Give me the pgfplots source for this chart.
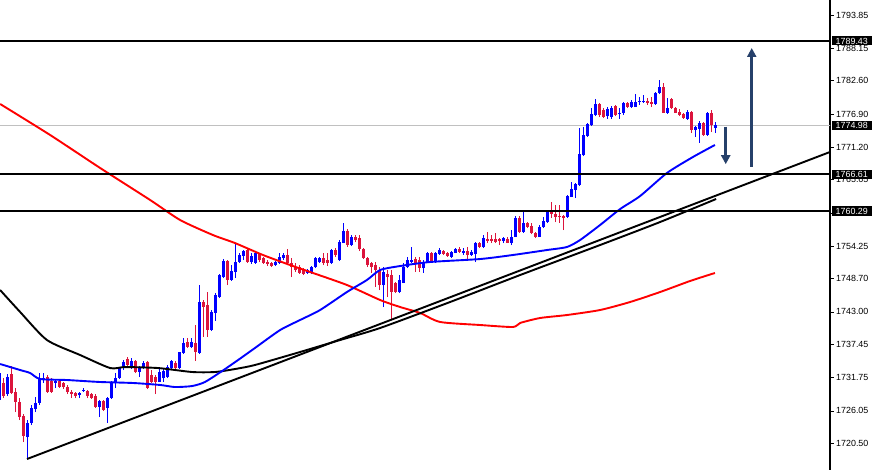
\documentclass[border=0pt]{standalone}
\usepackage{fontspec}
\setmainfont{Liberation Sans}
\usepackage{pgfplots}
\usepackage{pgfplotstable}
\pgfplotsset{compat=1.18}
\usetikzlibrary{arrows.meta}

\definecolor{candleblue}{RGB}{0,0,255}
\definecolor{candlered}{RGB}{220,20,60}
\definecolor{arrowblue}{RGB}{38,64,106}
\definecolor{pricegray}{RGB}{192,192,192}
\newcommand\tickfont{\fontsize{8.9bp}{10bp}\selectfont}

\pgfplotstableread{
k o h l c
-1 1727.92 1733.05 1727.58 1732.54
1 1728.94 1732.37 1728.60 1731.85
6 1721.58 1724.49 1717.81 1723.98
7 1723.98 1727.06 1723.63 1726.55
8 1726.37 1728.43 1725.86 1727.41
9 1727.41 1732.54 1727.06 1731.68
10 1731.34 1732.54 1730.83 1731.68
13 1730.83 1731.34 1729.97 1731.17
19 1728.77 1729.29 1728.26 1729.12
20 1729.46 1729.97 1729.29 1729.63
24 1726.72 1727.92 1725.00 1727.75
26 1726.55 1728.43 1723.98 1728.26
27 1728.26 1731.17 1728.09 1731.00
28 1731.00 1732.54 1729.97 1731.68
29 1731.68 1733.56 1731.51 1733.39
30 1733.39 1734.77 1733.05 1734.43
32 1733.56 1735.11 1733.22 1734.60
34 1732.71 1733.74 1731.85 1733.39
35 1733.39 1734.60 1733.22 1734.26
39 1731.00 1733.39 1731.00 1732.71
40 1731.68 1733.39 1731.00 1732.88
41 1731.85 1733.91 1731.68 1733.56
42 1733.39 1734.77 1733.05 1734.60
44 1733.39 1736.14 1733.22 1736.14
45 1735.97 1738.54 1735.80 1737.68
47 1736.99 1738.54 1736.82 1737.85
49 1735.97 1747.61 1735.80 1744.70
52 1739.90 1743.33 1739.73 1742.99
53 1742.82 1746.24 1741.45 1745.90
54 1745.55 1749.49 1745.38 1749.32
55 1748.98 1752.06 1748.81 1751.72
57 1748.47 1751.03 1748.30 1750.01
58 1749.84 1754.63 1748.81 1751.55
59 1751.55 1753.09 1751.38 1752.75
60 1752.58 1753.60 1751.89 1753.43
62 1751.55 1753.09 1751.21 1752.58
63 1751.38 1753.26 1751.21 1753.09
68 1751.03 1751.72 1750.86 1751.55
69 1751.38 1753.09 1751.21 1752.41
70 1752.23 1753.09 1751.89 1752.75
76 1749.67 1750.35 1749.49 1750.18
77 1749.67 1750.86 1749.49 1750.69
78 1750.69 1752.41 1750.52 1752.23
79 1751.55 1752.41 1751.38 1752.23
82 1751.38 1753.77 1751.21 1753.60
84 1751.89 1755.32 1751.72 1754.97
85 1754.80 1758.23 1754.80 1756.86
87 1754.46 1756.17 1754.29 1755.83
95 1747.61 1750.69 1743.84 1749.84
99 1746.41 1749.32 1746.24 1748.47
100 1747.95 1751.38 1747.95 1750.69
101 1750.69 1752.41 1750.52 1751.89
102 1751.55 1754.12 1751.38 1751.89
105 1750.52 1751.89 1749.67 1751.55
106 1751.55 1753.26 1751.38 1753.09
108 1751.55 1753.26 1751.38 1753.09
109 1752.92 1753.94 1752.75 1753.60
112 1752.41 1753.43 1752.23 1753.26
113 1753.09 1753.94 1753.09 1753.77
115 1753.09 1753.94 1752.75 1753.43
117 1752.75 1753.60 1752.58 1753.26
118 1752.92 1754.97 1751.55 1754.80
120 1754.12 1756.17 1753.94 1755.66
125 1755.15 1755.83 1754.80 1755.66
127 1754.80 1757.03 1754.46 1755.83
128 1755.83 1759.43 1755.83 1759.09
130 1756.69 1760.45 1756.52 1758.23
134 1755.83 1757.89 1755.83 1757.54
135 1757.54 1759.26 1757.37 1758.57
136 1758.40 1760.45 1758.23 1760.11
141 1759.26 1763.03 1759.09 1762.85
142 1762.68 1765.25 1762.68 1764.05
143 1763.88 1765.08 1762.51 1764.91
144 1764.74 1774.50 1764.57 1770.05
145 1769.87 1774.67 1769.70 1773.30
146 1773.13 1775.35 1772.96 1775.18
147 1775.01 1777.92 1774.84 1776.90
148 1776.73 1779.46 1776.55 1778.61
151 1776.55 1778.09 1776.04 1777.75
152 1776.38 1778.27 1776.04 1777.92
154 1776.90 1777.92 1776.04 1777.07
155 1777.07 1778.95 1776.73 1778.78
157 1778.09 1779.29 1777.92 1778.95
158 1778.09 1780.32 1778.09 1778.95
159 1778.95 1779.81 1778.44 1779.12
160 1778.95 1780.15 1778.78 1779.12
163 1778.61 1780.66 1778.44 1780.49
164 1780.49 1782.72 1780.32 1781.52
166 1777.07 1779.63 1776.90 1777.92
171 1776.04 1777.58 1775.87 1777.24
173 1774.16 1774.84 1772.96 1774.67
174 1774.33 1775.70 1771.93 1775.35
176 1773.30 1777.24 1773.13 1777.07
178 1774.50 1775.52 1773.64 1774.98
}\upcandles

\pgfplotstableread{
k o h l c
0 1730.83 1731.68 1728.26 1728.60
2 1732.37 1733.74 1728.94 1729.12
3 1729.29 1729.97 1725.86 1727.58
4 1727.58 1728.26 1724.49 1725.00
5 1725.17 1725.52 1720.72 1721.75
11 1731.85 1732.20 1729.12 1729.29
12 1731.17 1731.68 1729.12 1729.29
14 1731.17 1731.34 1729.97 1730.14
15 1730.83 1731.00 1729.80 1730.14
16 1730.14 1730.49 1728.94 1729.29
17 1729.29 1729.63 1728.26 1728.94
18 1729.12 1729.29 1728.26 1728.60
21 1729.46 1729.63 1728.26 1728.60
22 1728.94 1729.12 1728.09 1728.26
23 1728.60 1728.94 1726.55 1726.72
25 1727.75 1727.92 1726.03 1726.20
31 1734.94 1735.28 1733.39 1733.91
33 1734.60 1734.77 1732.54 1732.71
36 1734.43 1734.60 1729.80 1729.97
37 1732.20 1733.05 1730.83 1731.00
38 1731.85 1732.20 1728.94 1731.00
43 1734.26 1734.60 1733.22 1733.39
46 1737.85 1738.54 1736.82 1736.99
48 1737.68 1740.76 1734.60 1736.14
50 1744.70 1745.04 1738.71 1743.84
51 1744.19 1746.41 1738.71 1739.90
56 1751.72 1751.89 1747.61 1748.47
61 1753.60 1753.94 1751.38 1751.55
64 1752.92 1753.09 1751.55 1751.89
65 1752.23 1752.41 1751.21 1751.38
66 1751.55 1751.89 1750.86 1751.21
67 1751.38 1751.55 1750.69 1750.86
71 1752.75 1753.77 1751.03 1751.38
72 1751.38 1752.23 1748.98 1750.69
73 1750.69 1751.38 1749.84 1750.18
74 1750.69 1751.03 1749.50 1749.67
75 1750.18 1750.52 1749.32 1749.49
80 1752.23 1753.09 1751.03 1751.38
81 1751.89 1753.09 1750.86 1751.38
83 1753.60 1753.94 1752.41 1752.75
86 1756.86 1757.20 1754.12 1754.46
88 1755.83 1756.17 1754.97 1755.32
89 1755.66 1756.17 1753.43 1753.77
90 1753.77 1753.94 1752.06 1752.23
91 1752.23 1752.41 1750.69 1751.03
92 1751.38 1751.55 1749.67 1750.69
93 1751.03 1751.55 1747.27 1750.18
94 1750.18 1750.69 1746.75 1747.61
96 1749.49 1750.18 1745.55 1748.98
97 1749.32 1750.18 1741.62 1746.41
98 1747.95 1748.12 1746.24 1746.41
103 1752.06 1752.41 1749.84 1751.38
104 1751.89 1752.41 1749.84 1750.52
107 1753.09 1753.26 1751.38 1751.55
110 1753.43 1753.60 1752.75 1752.92
111 1753.09 1753.26 1752.41 1752.58
114 1753.77 1754.12 1753.09 1753.26
116 1753.43 1754.12 1751.89 1752.75
119 1754.80 1754.97 1753.94 1754.12
121 1755.49 1756.69 1754.80 1755.15
122 1755.49 1756.17 1754.80 1755.15
123 1755.49 1756.52 1754.80 1754.97
124 1755.49 1755.66 1754.46 1755.15
126 1755.49 1755.83 1754.80 1754.80
129 1759.09 1759.43 1756.52 1756.69
131 1758.23 1758.40 1757.37 1757.54
132 1757.72 1758.23 1756.34 1756.52
133 1756.52 1756.69 1755.66 1755.83
137 1760.11 1761.82 1759.09 1759.77
138 1759.77 1761.31 1758.40 1759.26
139 1759.43 1761.31 1758.23 1759.26
140 1759.43 1759.60 1757.03 1759.09
149 1778.61 1778.78 1776.38 1776.73
150 1777.58 1777.92 1776.21 1776.38
153 1778.27 1778.44 1776.55 1776.73
156 1778.78 1778.95 1777.92 1778.09
161 1779.12 1779.63 1778.44 1778.78
162 1778.95 1779.81 1778.09 1778.61
165 1781.52 1782.21 1777.07 1777.07
167 1779.46 1779.63 1777.75 1777.92
168 1777.92 1778.09 1777.07 1777.07
169 1777.24 1777.75 1776.55 1776.73
170 1776.90 1777.07 1776.04 1776.21
172 1777.24 1777.41 1773.64 1774.16
175 1775.35 1775.52 1773.13 1773.30
177 1777.07 1777.58 1773.81 1774.98
}\downcandles

\pgfplotstableread{
k p
-0.8 1734.08
4.2 1733.05
6.7 1732.54
9.2 1731.51
15.9 1731.34
24.2 1731.00
32.4 1730.83
39.2 1730.49
42.9 1730.14
47.2 1730.31
50.4 1731.00
54.7 1732.88
58.7 1734.77
62.9 1736.82
69.2 1739.90
74.2 1741.62
79.2 1743.33
85.9 1746.41
90.9 1748.47
94.2 1750.18
99.2 1750.86
106.7 1751.55
119.2 1752.06
127.4 1752.75
135.9 1753.60
140.9 1754.12
144.2 1755.32
149.2 1757.89
154.2 1760.62
159.2 1762.85
165.9 1766.79
172.4 1769.53
177.9 1771.59
}\blueMA

\pgfplotstableread{
k p
-0.8 1778.61
11.7 1773.30
24.2 1767.65
36.7 1762.17
44.2 1758.74
52.4 1756.17
57.9 1754.80
64.9 1752.75
71.7 1751.03
77.4 1749.67
85.9 1747.61
94.2 1745.04
99.2 1743.84
104.2 1742.82
109.2 1741.28
119.2 1740.76
127.4 1740.42
129.2 1741.11
134.2 1741.96
140.9 1742.47
149.2 1743.33
156.7 1744.70
164.2 1746.41
171.7 1748.30
177.9 1749.67
}\redMA

\pgfplotstableread{
k p
-0.8 1746.75
4.2 1742.99
10.9 1738.19
19.2 1735.62
26.7 1733.39
30.4 1733.56
38.7 1733.39
47.2 1732.71
52.9 1732.71
57.9 1733.22
62.9 1733.91
74.2 1736.14
84.2 1738.19
94.2 1740.25
111.7 1744.70
129.2 1749.32
149.2 1754.46
164.2 1758.40
178.2 1762.34
}\blackMA

\begin{document}
\begin{tikzpicture}
\begin{axis}[
  scale only axis, width=830bp, height=470bp,
  xmin=-0.8325, xmax=206.6675, ymin=1715.93, ymax=1796.42,
  axis x line=none, axis y line*=right,
  axis line style={-, line width=1.2bp, black},
  xtick=\empty,
  ytick={1720.50,1726.05,1731.75,1737.45,1743.00,1748.70,1754.25,1759.95,1765.65,1771.20,1776.90,1782.60,1788.15,1793.85},
  yticklabels={1720.50,1726.05,1731.75,1737.45,1743.00,1748.70,1754.25,{},1765.65,1771.20,1776.90,1782.60,1788.15,1793.85},
  tick align=outside, major tick length=3.5bp,
  ytick style={line width=0.8bp, black},
  yticklabel style={font=\tickfont, inner sep=1bp, xshift=1.5bp},
  clip=true,
]
\coordinate (ll) at (rel axis cs:0,0);
\coordinate (b1) at (axis cs:206.6675,1789.43);
\coordinate (b2) at (axis cs:206.6675,1774.98);
\coordinate (b3) at (axis cs:206.6675,1766.61);
\coordinate (b4) at (axis cs:206.6675,1760.29);

% last price line
\addplot[pricegray, line width=0.9bp] coordinates {(-1,1774.98) (208,1774.98)};

% candles: wicks and bodies
\addplot[candleblue, line width=0.9bp, quiver={u=0, v=\thisrow{h}-\thisrow{l}}] table[x=k, y=l] {\upcandles};
\addplot[candleblue, line width=2.9bp, quiver={u=0, v=\thisrow{c}-\thisrow{o}}] table[x=k, y=o] {\upcandles};
\addplot[candlered, line width=0.9bp, quiver={u=0, v=\thisrow{h}-\thisrow{l}}] table[x=k, y=l] {\downcandles};
\addplot[candlered, line width=2.9bp, quiver={u=0, v=\thisrow{c}-\thisrow{o}}] table[x=k, y=o] {\downcandles};

% moving averages
\addplot[red, line width=1.9bp, smooth, tension=0.4] table[x=k, y=p] {\redMA};
\addplot[black, line width=1.9bp, smooth, tension=0.4] table[x=k, y=p] {\blackMA};
\addplot[candleblue, line width=1.9bp, smooth, tension=0.4] table[x=k, y=p] {\blueMA};

% trend line
\addplot[black, line width=1.9bp] coordinates {(5.92,1717.81) (206.6675,1770.39)};

% horizontal levels
\addplot[black, line width=1.8bp] coordinates {(-1,1789.43) (208,1789.43)};
\addplot[black, line width=1.8bp] coordinates {(-1,1766.61) (208,1766.61)};
\addplot[black, line width=1.8bp] coordinates {(-1,1760.29) (208,1760.29)};

% arrows
\addplot[arrowblue, line width=2.6bp, -{Triangle[width=9bp,length=9bp]}] coordinates {(180.6,1774.72) (180.6,1768.30)};
\addplot[arrowblue, line width=2.6bp, -{Triangle[width=9bp,length=9bp]}] coordinates {(187.1,1767.82) (187.1,1788.20)};
\end{axis}

\foreach \c/\t in {b1/1789.43, b2/1774.98, b3/1766.61, b4/1760.29}{
  \node[fill=black, text=white, font=\tickfont, anchor=west, inner xsep=4bp, inner ysep=1.3bp, text height=6.5bp, text depth=0bp] at ([xshift=1.5bp]\c) {\t};
}

\pgfresetboundingbox
\path[use as bounding box] (ll) rectangle ++(878bp,470bp);
\end{tikzpicture}
\end{document}
